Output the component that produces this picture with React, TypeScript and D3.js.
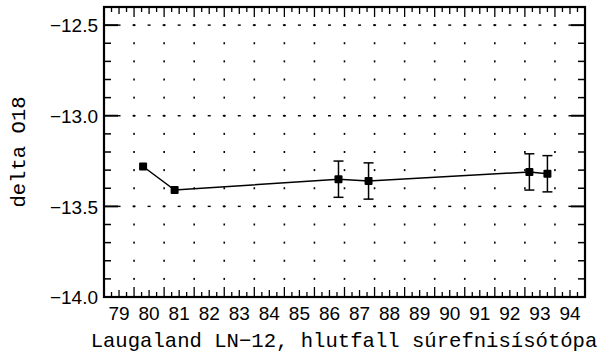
import React from 'react'
import * as d3 from 'd3'

// sampling years and delta O18 values
const years = [80.3, 81.35, 86.8, 87.8, 93.15, 93.75]
const values = [-13.28, -13.41, -13.35, -13.36, -13.31, -13.32]
const errors = [0, 0, 0.1, 0.1, 0.1, 0.1]

const yearLabels = d3.range(79, 95)
const yTicks = [-14.0, -13.5, -13.0, -12.5]

const W = 615
const H = 356
const left = 104, right = 585, top = 7, bottom = 297

export default function App() {
  const x = d3.scaleLinear().domain([79, 95]).range([left, right])
  const y = d3.scaleLinear().domain([-14.0, -12.4]).range([bottom, top])

  const pts = years.map((yr, i) => ({ yr, v: values[i], e: errors[i] }))
  const line = d3.line<any>().x(d => x(d.yr)).y(d => y(d.v))

  // ticks
  const xMinor = d3.range(79, 95.001, 0.25)
  const yMinor = d3.range(-14.0, -12.39, 0.1).map(v => +v.toFixed(2))

  // dotted grid
  const gridYears = d3.range(80, 95)
  const gridDots = d3.range(-13.9, -12.39, 0.1).map(v => +v.toFixed(2))
  const dashX = d3.range(79.5, 95, 0.5)

  const fmt = (v: number) => v.toFixed(1).replace('-', '\u2212')
  const sans = 'Liberation Sans, Arial, sans-serif'
  const mono = 'Liberation Mono, monospace'

  return (
    <svg width={W} height={H} style={{ position: 'absolute', left: 0, top: 0, background: '#fff' }}>
      {/* grid */}
      <g fill="#000">
        {gridYears.map(g =>
          gridDots.map(v => (
            <rect key={g + '_' + v} x={x(g) - 0.8} y={y(v) - 1} width={1.6} height={2} />
          ))
        )}
        {yTicks.slice(1).map(t =>
          dashX.map(d => (
            <rect key={t + 'h' + d} x={x(d) - 1.5} y={y(t) - 0.7} width={3} height={1.4} />
          ))
        )}
      </g>

      {/* x ticks top and bottom */}
      <g stroke="#000" strokeWidth={1.3}>
        {xMinor.map(t => {
          const isMajor = Math.abs(t - Math.round(t)) < 1e-6
          const isHalf = Math.abs(t - Math.round(t * 2) / 2) < 1e-6 && !isMajor
          const len = isMajor ? 10 : isHalf ? 7 : 5
          return (
            <g key={'xt' + t}>
              <line x1={x(t)} x2={x(t)} y1={bottom} y2={bottom - len} />
              <line x1={x(t)} x2={x(t)} y1={top} y2={top + len} />
            </g>
          )
        })}
        {yMinor.map(t => {
          const isMajor = Math.abs(t * 2 - Math.round(t * 2)) < 1e-6
          const len = isMajor ? 14 : 7
          return (
            <g key={'yt' + t} strokeWidth={isMajor ? 2 : 1.5}>
              <line x1={left} x2={left + len} y1={y(t)} y2={y(t)} />
              <line x1={right} x2={right - len} y1={y(t)} y2={y(t)} />
            </g>
          )
        })}
      </g>

      {/* frame */}
      <rect x={left} y={top} width={right - left} height={bottom - top} fill="none" stroke="#000" strokeWidth={2.2} />

      {/* tick labels */}
      <g fontFamily={sans} fontSize={19} fill="#000">
        {yTicks.map(t => (
          <text key={'yl' + t} x={left - 6} y={y(t)} dy="0.38em" textAnchor="end">{fmt(t)}</text>
        ))}
        {yearLabels.map(yr => (
          <text key={'xl' + yr} x={x(yr + 0.5)} y={320} textAnchor="middle">{yr}</text>
        ))}
      </g>

      {/* axis titles */}
      <text x={344} y={347} textAnchor="middle" fontFamily={mono} fontSize={20.6} fill="#000">
        Laugaland LN−12, hlutfall súrefnisísótópa
      </text>
      <text transform="translate(25,152) rotate(-90)" textAnchor="middle" fontFamily={mono} fontSize={20.6} fill="#000">
        delta O18
      </text>

      {/* series */}
      <path d={line(pts) || ''} fill="none" stroke="#000" strokeWidth={1.5} />
      <g stroke="#000" strokeWidth={1.5}>
        {pts.filter(p => p.e > 0).map(p => (
          <g key={'e' + p.yr}>
            <line x1={x(p.yr)} x2={x(p.yr)} y1={y(p.v + p.e)} y2={y(p.v - p.e)} />
            <line x1={x(p.yr) - 5} x2={x(p.yr) + 5} y1={y(p.v + p.e)} y2={y(p.v + p.e)} />
            <line x1={x(p.yr) - 5} x2={x(p.yr) + 5} y1={y(p.v - p.e)} y2={y(p.v - p.e)} />
          </g>
        ))}
      </g>
      <g fill="#000">
        {pts.map(p => (
          <rect key={'m' + p.yr} x={x(p.yr) - 4} y={y(p.v) - 4} width={8} height={8} rx={1} />
        ))}
      </g>
    </svg>
  )
}
